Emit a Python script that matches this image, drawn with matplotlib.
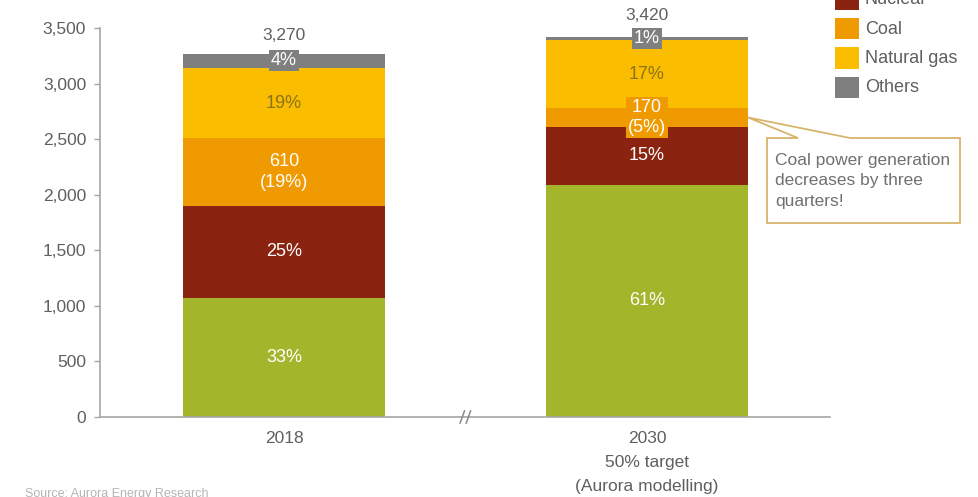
import matplotlib
matplotlib.use("Agg")
import matplotlib.pyplot as plt
from matplotlib.patches import Rectangle, Polygon
from matplotlib.ticker import FuncFormatter

plt.rcParams['font.family'] = ['Liberation Sans', 'DejaVu Sans']

# ---------------- data ----------------
categories = ["2018", "2030\n50% target\n(Aurora modelling)"]
series_names = ["Renewables", "Nuclear", "Coal", "Natural gas", "Others"]
renewables = [1070, 2090]
nuclear = [830, 520]
coal = [610, 170]
natural_gas = [630, 610]
others = [130, 30]
totals = [3270, 3420]
labels_2018 = ["33%", "25%", "610\n(19%)", "19%", "4%"]
labels_2030 = ["61%", "15%", "170\n(5%)", "17%", "1%"]
yticks = [0, 500, 1000, 1500, 2000, 2500, 3000, 3500]
callout_text = "Coal power generation\ndecreases by three\nquarters!"

colors = ["#a3b52b", "#8a2411", "#ef9a00", "#fbbd00", "#7f7f7f"]
label_colors = ["white", "white", "white", "#8c7216", "white"]
GRAY = "#5f5f5f"

W, H = 979, 497
fig = plt.figure(figsize=(W / 100, H / 100), dpi=100)
ax = fig.add_axes([100 / W, 1 - 417 / H, 730 / W, 389 / H])

series = [renewables, nuclear, coal, natural_gas, others]
seg_labels = [labels_2018, labels_2030]
x = [0, 1]
width = 0.556
bottoms = [0, 0]
for si, (vals, col) in enumerate(zip(series, colors)):
    ax.bar(x, vals, width, bottom=bottoms, color=col, edgecolor='none', zorder=2)
    for i in range(2):
        ymid = bottoms[i] + vals[i] / 2
        lab = seg_labels[i][si]
        kw = dict(ha='center', va='center', fontsize=13, color=label_colors[si],
                  zorder=5, linespacing=1.25)
        if si == 4:
            kw['bbox'] = dict(boxstyle='square,pad=0.12', fc=col, ec='none')
        if si == 2 and i == 1:
            kw['bbox'] = dict(boxstyle='square,pad=0.1', fc=col, ec='none')
        ax.text(x[i], ymid, lab, **kw)
    bottoms = [b + v for b, v in zip(bottoms, vals)]

# totals
for i in range(2):
    ax.annotate(f"{totals[i]:,}", (x[i], totals[i]), xytext=(0, 18 if i == 0 else 21),
                textcoords='offset pixels', ha='center', va='center',
                fontsize=12.5, color=GRAY, zorder=6)

ax.set_xlim(-0.507, 1.504)
ax.set_ylim(0, 3500)
ax.set_yticks(yticks)
ax.yaxis.set_major_formatter(FuncFormatter(lambda v, p: f"{int(v):,}"))
ax.set_xticks(x)
ax.set_xticklabels(categories, linespacing=1.75)
ax.tick_params(axis='x', length=0, pad=10, labelsize=12.5, labelcolor=GRAY)
ax.tick_params(axis='y', length=4, width=1, color='#a6a6a6', pad=6,
               labelsize=12.5, labelcolor=GRAY)
for s in ['top', 'right']:
    ax.spines[s].set_visible(False)
for s in ['left', 'bottom']:
    ax.spines[s].set_color('#a6a6a6')
    ax.spines[s].set_linewidth(1.2)
ax.set_facecolor('white')

# axis break marks
for dx in (-0.009, 0.008):
    ax.plot([0.5 + dx - 0.006, 0.5 + dx + 0.006], [-55, 55], color='#8a8a8a',
            lw=1.1, clip_on=False, zorder=4)

# ---------------- callout ----------------
def fig_frac(px, py):
    return (px / W, 1 - py / H)

tip_disp = ax.transData.transform((1 + width / 2, renewables[1] + nuclear[1] + coal[1] / 2))
tip = fig.transFigure.inverted().transform(tip_disp)
pts = [fig_frac(767, 138), fig_frac(798, 138), tuple(tip), fig_frac(850, 138),
       fig_frac(960, 138), fig_frac(960, 223), fig_frac(767, 223)]
poly = Polygon(pts, closed=True, transform=fig.transFigure, fc='white',
               ec='#d8b46c', lw=1.3, zorder=10)
fig.add_artist(poly)
fig.text(775 / W, 1 - 181 / H, callout_text, ha='left', va='center', fontsize=12.5,
         color='#707070', linespacing=1.45, zorder=11)

# ---------------- legend ----------------
leg_y0 = -41  # pixel y of first patch top (Renewables, above the canvas)
for k, (name, col) in enumerate(zip(series_names, colors)):
    ytop = leg_y0 + k * 29.5
    if ytop + 21 < 0:
        continue  # entry lies entirely above the visible canvas
    fig.add_artist(Rectangle(fig_frac(835, ytop + 21), 24 / W, 21 / H,
                             transform=fig.transFigure, fc=col, ec='none'))
    fig.text(865 / W, 1 - (ytop + 11) / H, name, ha='left', va='center',
             fontsize=13, color=GRAY)

# source (cut off at bottom)
fig.text(25 / W, 1 - 494 / H, "Source: Aurora Energy Research", ha='left', va='center',
         fontsize=9, color='#b5b5b5')

fig.savefig("out.png", dpi=100, facecolor='white')
